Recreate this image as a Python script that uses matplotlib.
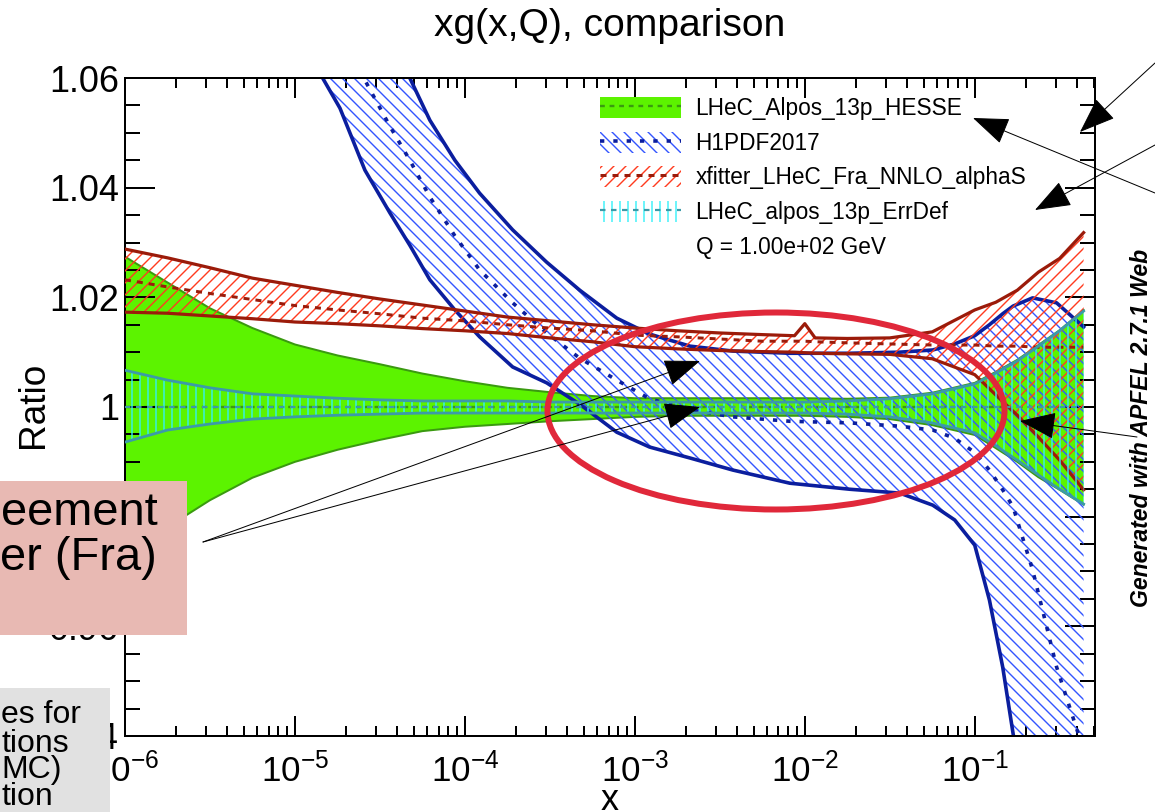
"""
xg(x,Q) ratio comparison (APFEL Web style) with slide annotations on top.
"""

import numpy as np
import matplotlib
matplotlib.use("Agg")
import matplotlib.pyplot as plt
from matplotlib.patches import Patch, Ellipse, Rectangle, FancyArrowPatch
from matplotlib.lines import Line2D
from matplotlib.legend_handler import HandlerTuple
from matplotlib.ticker import LogLocator, MultipleLocator, FuncFormatter, NullFormatter

# ── Data (ratio to LHeC_Alpos_13p_HESSE central) ─────────────────
X = [1e-6, 1.78e-6, 3.16e-6, 5.62e-6, 1e-5, 1.78e-5, 3.16e-5, 5.62e-5, 1e-4, 1.78e-4,
     3.16e-4, 5.62e-4, 1e-3, 1.78e-3, 3.16e-3, 5.62e-3, 1e-2, 1.78e-2, 3.16e-2, 5.62e-2,
     0.1, 0.133, 0.178, 0.237, 0.316, 0.437]
REF_RATIO = 1.0

HESSE_UP = [1.0274, 1.0227, 1.0180, 1.0144, 1.0114, 1.0094, 1.0078, 1.0061, 1.0047, 1.0035,
            1.0027, 1.0020, 1.0016, 1.0016, 1.0016, 1.0016, 1.0016, 1.0015, 1.0017, 1.0026,
            1.0044, 1.0064, 1.0086, 1.0113, 1.0140, 1.0177]
HESSE_LO = [0.9743, 0.9781, 0.9830, 0.9871, 0.9900, 0.9922, 0.9940, 0.9956, 0.9964, 0.9969,
            0.9974, 0.9978, 0.9982, 0.9984, 0.9984, 0.9984, 0.9984, 0.9982, 0.9978, 0.9967,
            0.9949, 0.9925, 0.9900, 0.9872, 0.9849, 0.9822]

ERRDEF_UP = [1.0067, 1.0049, 1.0035, 1.0024, 1.0020, 1.0016, 1.0013, 1.0011, 1.0011, 1.0011,
             1.0009, 1.0009, 1.0009, 1.0009, 1.0009, 1.0009, 1.0009, 1.0011, 1.0015, 1.0024,
             1.0042, 1.0062, 1.0084, 1.0111, 1.0139, 1.0175]
ERRDEF_LO = [0.9936, 0.9958, 0.9969, 0.9978, 0.9982, 0.9985, 0.9987, 0.9989, 0.9989, 0.9989,
             0.9989, 0.9989, 0.9989, 0.9989, 0.9989, 0.9989, 0.9989, 0.9987, 0.9982, 0.9971,
             0.9953, 0.9929, 0.9903, 0.9876, 0.9850, 0.9823]

X_RED = [1e-6, 1.78e-6, 3.16e-6, 5.62e-6, 1e-5, 1.78e-5, 3.16e-5, 5.62e-5, 1e-4, 1.78e-4,
         3.16e-4, 5.62e-4, 1e-3, 1.78e-3, 3.16e-3, 5.62e-3, 8.7e-3, 1e-2, 1.15e-2, 1.78e-2,
         3.16e-2, 5.62e-2, 0.1, 0.133, 0.178, 0.237, 0.316, 0.437]
XFIT_UP = [1.0288, 1.0272, 1.0254, 1.0235, 1.0222, 1.0209, 1.0197, 1.0186, 1.0175, 1.0164,
           1.0157, 1.0150, 1.0144, 1.0139, 1.0135, 1.0132, 1.0130, 1.0152, 1.0126, 1.0125,
           1.0126, 1.0137, 1.0177, 1.0191, 1.0213, 1.0246, 1.0271, 1.0318]
XFIT_LO = [1.0173, 1.0171, 1.0166, 1.0161, 1.0155, 1.0152, 1.0148, 1.0143, 1.0139, 1.0134,
           1.0126, 1.0119, 1.0110, 1.0106, 1.0103, 1.0101, 1.0100, 1.0099, 1.0098, 1.0097,
           1.0096, 1.0088, 1.0059, 1.0022, 0.9985, 0.9945, 0.9903, 0.9849]
XFIT_C = [1.0232, 1.0219, 1.0207, 1.0196, 1.0185, 1.0177, 1.0170, 1.0162, 1.0157, 1.0150,
          1.0144, 1.0139, 1.0131, 1.0128, 1.0124, 1.0120, 1.0120, 1.0120, 1.0119, 1.0117,
          1.0115, 1.0113, 1.0113, 1.0111, 1.0111, 1.0109, 1.0109, 1.0109]

X_BLUE = [1.40e-5, 1.84e-5, 2.58e-5, 3.62e-5, 4.74e-5, 6.22e-5, 8.73e-5, 1.22e-4, 1.91e-4,
          3.03e-4, 4.74e-4, 7.83e-4, 1.22e-3, 2.11e-3, 3.77e-3, 8.17e-3, 1.84e-2, 3.62e-2,
          5.66e-2, 7.62e-2, 0.100, 0.122, 0.146, 0.168, 0.219, 0.303, 0.437]
H1_UP = [1.0979, 1.0888, 1.0779, 1.0677, 1.0600, 1.0523, 1.0450, 1.0390, 1.0323, 1.0264,
         1.0213, 1.0162, 1.0133, 1.0111, 1.0102, 1.0098, 1.0098, 1.0100, 1.0104, 1.0115,
         1.0130, 1.0150, 1.0170, 1.0184, 1.0199, 1.0190, 1.0146]
H1_LO = [1.0609, 1.0545, 1.0432, 1.0354, 1.0295, 1.0232, 1.0177, 1.0128, 1.0073, 1.0044,
         1.0005, 0.9954, 0.9927, 0.9907, 0.9885, 0.9861, 0.9850, 0.9843, 0.9821, 0.9794,
         0.9748, 0.9648, 0.9526, 0.9405, 0.9192, 0.8918, 0.8645]
H1_C = [1.0761, 1.0688, 1.0596, 1.0512, 1.0450, 1.0383, 1.0312, 1.0250, 1.0190, 1.0135,
        1.0089, 1.0049, 1.0015, 0.9995, 0.9982, 0.9974, 0.9971, 0.9965, 0.9958, 0.9943,
        0.9917, 0.9885, 0.9849, 0.9818, 0.9703, 0.9526, 0.9374]

LEGEND_LABELS = ["LHeC_Alpos_13p_HESSE", "H1PDF2017", "xfitter_LHeC_Fra_NNLO_alphaS",
                 "LHeC_alpos_13p_ErrDef", "Q = 1.00e+02 GeV"]

# ── Colors ───────────────────────────────────────────────────────
GREEN_FILL = "#5CF300"
GREEN_EDGE = "#3A9A10"
BLUE_HATCH = "#3355FF"
BLUE_DARK = "#0B1E9E"
RED_HATCH = "#FF3B1F"
RED_DARK = "#9B1B0A"
CYAN_HATCH = "#33F0F8"
CYAN_EDGE = "#3C9AA8"
ELLIPSE_RED = "#E0283A"
PINK_BOX = "#E8B9B3"
GRAY_BOX = "#E1E1E1"

# diagonal hatches: 4 strokes -> ~12 px spacing at 144 dpi
BLUE_HATCH_PAT = "\\" * 4
RED_HATCH_PAT = "/" * 4
CYAN_HATCH_PAT = "|||"

W, H, DPI = 1155, 812, 144

plt.rcParams.update({
    "font.family": ["Liberation Sans", "DejaVu Sans"],
    "mathtext.fontset": "custom",
    "mathtext.rm": "Liberation Sans",
    "mathtext.it": "Liberation Sans:italic",
    "mathtext.bf": "Liberation Sans:bold",
    "hatch.linewidth": 0.7,
    "axes.linewidth": 1.0,
})


def fx(px):
    return px / W


def fy(py):
    return 1 - py / H


fig = plt.figure(figsize=(W / DPI, H / DPI), dpi=DPI)
ax = fig.add_axes([fx(125), fy(736), (1095 - 125) / W, (736 - 78) / H])

# ── Bands ──
ax.fill_between(X, HESSE_LO, HESSE_UP, facecolor=GREEN_FILL, edgecolor="none", lw=0, zorder=1)
ax.plot(X, HESSE_UP, color=GREEN_EDGE, lw=1.0, zorder=1.1)
ax.plot(X, HESSE_LO, color=GREEN_EDGE, lw=1.0, zorder=1.1)
ax.hlines(REF_RATIO, X[0], X[-1], color=GREEN_EDGE, lw=1.2, linestyles=(0, (2, 2)), zorder=1.2)

ax.fill_between(X_BLUE, H1_LO, H1_UP, facecolor="none", edgecolor=BLUE_HATCH, hatch=BLUE_HATCH_PAT,
                lw=0, zorder=2)
ax.plot(X_BLUE, H1_UP, color=BLUE_DARK, lw=1.8, zorder=2.1)
ax.plot(X_BLUE, H1_LO, color=BLUE_DARK, lw=1.8, zorder=2.1)
ax.plot(X_BLUE, H1_C, color=BLUE_DARK, lw=1.8, ls=(0, (1.2, 2.5)), zorder=2.2)

ax.fill_between(X_RED, XFIT_LO, XFIT_UP, facecolor="none", edgecolor=RED_HATCH, hatch=RED_HATCH_PAT,
                lw=0, zorder=3)
ax.plot(X_RED, XFIT_UP, color=RED_DARK, lw=1.6, zorder=3.1)
ax.plot(X_RED, XFIT_LO, color=RED_DARK, lw=1.6, zorder=3.1)
ax.plot(X_RED, XFIT_C, color=RED_DARK, lw=1.5, ls=(0, (2, 2)), zorder=3.2)

ax.fill_between(X, ERRDEF_LO, ERRDEF_UP, facecolor="none", edgecolor=CYAN_HATCH, hatch=CYAN_HATCH_PAT,
                lw=0, zorder=4)
ax.plot(X, ERRDEF_UP, color=CYAN_EDGE, lw=1.4, zorder=4.1)
ax.plot(X, ERRDEF_LO, color=CYAN_EDGE, lw=1.4, zorder=4.1)
ax.hlines(REF_RATIO, X[0], X[-1], color=CYAN_EDGE, lw=1.1, linestyles=(0, (2.5, 2.5)), zorder=4.2)

# ── Axes ──
ax.set_xscale("log")
ax.set_xlim(1e-6, 0.51)
ax.set_ylim(0.94, 1.06)
ax.xaxis.set_major_locator(LogLocator(base=10, numticks=20))
ax.xaxis.set_minor_locator(LogLocator(base=10, subs=np.arange(2, 10), numticks=20))
ax.xaxis.set_minor_formatter(NullFormatter())
ax.yaxis.set_major_locator(MultipleLocator(0.02))
ax.yaxis.set_minor_locator(MultipleLocator(0.005))
ax.yaxis.set_major_formatter(FuncFormatter(lambda v, p: f"{v:g}"))
ax.tick_params(which="both", direction="in", top=True, right=True, width=1.0, color="black")
ax.tick_params(axis="x", which="major", length=10, pad=8, labelsize=17.5)
ax.tick_params(axis="x", which="minor", length=5)
ax.tick_params(axis="y", which="major", length=15, pad=3, labelsize=18)
ax.tick_params(axis="y", which="minor", length=7.5)

ax.set_title("xg(x,Q), comparison", fontsize=19.5, pad=21)
ax.set_ylabel("Ratio", fontsize=18.5)
ax.yaxis.set_label_coords(-0.076, 0.503)
ax.set_xlabel("x", fontsize=18)
ax.xaxis.set_label_coords(0.5, -(810 - 736) / 658)
ax.xaxis.label.set_va("baseline")

# ── Legend ──
handles = [
    (Patch(facecolor=GREEN_FILL, edgecolor=GREEN_FILL, lw=0),
     Line2D([], [], color=GREEN_EDGE, lw=1.2, ls=(0, (2, 2)))),
    (Patch(facecolor="none", edgecolor=BLUE_HATCH, hatch=BLUE_HATCH_PAT, lw=0),
     Line2D([], [], color=BLUE_DARK, lw=1.8, ls=(0, (1.2, 2.5)))),
    (Patch(facecolor="none", edgecolor=RED_HATCH, hatch=RED_HATCH_PAT, lw=0),
     Line2D([], [], color=RED_DARK, lw=1.5, ls=(0, (2, 2)))),
    (Patch(facecolor="none", edgecolor=CYAN_HATCH, hatch=CYAN_HATCH_PAT, lw=0),
     Line2D([], [], color=CYAN_EDGE, lw=1.1, ls=(0, (2.5, 2.5)))),
    Line2D([], [], ls="none"),
]
leg = ax.legend(handles, LEGEND_LABELS, handler_map={tuple: HandlerTuple(ndivide=1)},
                loc="upper left", bbox_to_anchor=(fx(600), fy(97)), bbox_transform=fig.transFigure,
                frameon=False, fontsize=11.3, handlelength=3.57, handleheight=1.06,
                handletextpad=0.66, labelspacing=0.50, borderpad=0, borderaxespad=0)
leg.set_zorder(10)

# ── Slide annotations ──
fig.add_artist(Ellipse((fx(776), fy(411)), 457 / W, 197 / H, transform=fig.transFigure,
                       fill=False, edgecolor=ELLIPSE_RED, lw=3, zorder=15))

arrows = [((1155, 63), (1080, 132)), ((1155, 145), (1035, 210)), ((1155, 193), (973, 118)),
          ((1137, 437), (1020, 421)), ((203, 542), (700, 361)), ((203, 542), (700, 407))]
for (x0, y0), (x1, y1) in arrows:
    fig.add_artist(FancyArrowPatch((fx(x0), fy(y0)), (fx(x1), fy(y1)), transform=fig.transFigure,
                                   arrowstyle="-|>,head_length=16,head_width=6", mutation_scale=1,
                                   lw=0.5, color="black", shrinkA=0, shrinkB=0, zorder=20))

fig.add_artist(Rectangle((0, fy(635)), 187 / W, (635 - 481) / H, transform=fig.transFigure,
                         facecolor=PINK_BOX, edgecolor="none", zorder=16))
fig.text(fx(1), fy(525), "eement", fontsize=23.5, va="baseline", ha="left", zorder=17)
fig.text(fx(0), fy(570), "er (Fra)", fontsize=23.5, va="baseline", ha="left", zorder=17)

fig.add_artist(Rectangle((0, 0), 110 / W, (812 - 688) / H, transform=fig.transFigure,
                         facecolor=GRAY_BOX, edgecolor="none", zorder=16))
for txt, base in [("es for", 723), ("tions", 752), ("MC)", 778), ("tion", 805)]:
    fig.text(fx(1), fy(base), txt, fontsize=16, va="baseline", ha="left", zorder=17)

fig.text(fx(1141), fy(428), "Generated with APFEL 2.7.1 Web", rotation=90, ha="center", va="center",
         fontsize=11.5, fontweight="bold", fontstyle="italic")

fig.savefig("out.png", dpi=DPI)
print("saved out.png")
